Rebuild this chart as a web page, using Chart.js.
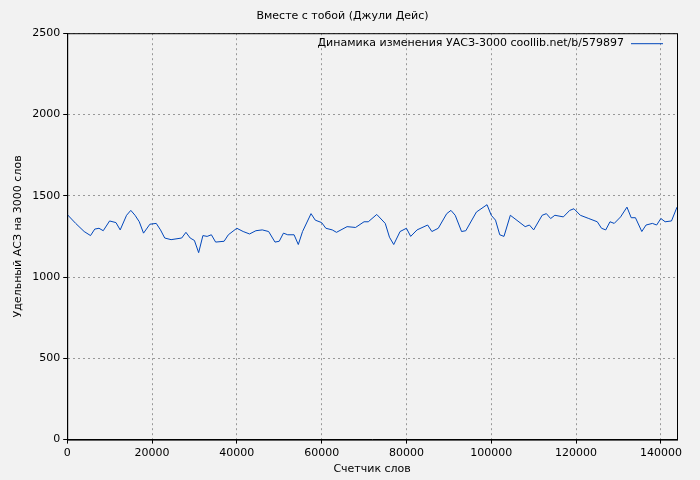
<!DOCTYPE html>
<html>
<head>
<meta charset="utf-8">
<script src="https://cdn.jsdelivr.net/npm/chart.js@4"></script>
<style>
html,body{margin:0;padding:0;background:#f2f2f2;}
#wrap{width:700px;height:480px;position:relative;}
</style>
</head>
<body>
<div id="wrap"><canvas id="c" width="700" height="480"></canvas></div>
<script>
// Данные: счетчик слов и удельный АСЗ
const wordsX = [0,2000,4000,5500,6500,7500,8500,10000,11500,12500,14000,15000,16000,17000,18000,19500,21000,22000,23000,24500,27000,28000,29000,30000,31000,32000,33000,34000,35000,37000,38000,40000,41500,43000,44500,46000,47500,49000,50000,51000,52000,53500,54500,55500,57500,58500,60000,61000,62500,63500,66000,68000,70000,71000,73000,75000,76000,77000,78500,80000,81000,82500,85000,86000,87500,89500,90500,91500,93000,94000,96500,99000,100000,101000,102000,103000,104500,108000,109000,110000,112000,113000,114000,115000,117000,118500,119500,121000,123000,125000,126000,127000,128000,129000,130500,132000,133000,134000,135500,136500,138000,139000,140000,141000,142500,143800];
const asz = [1385,1330,1280,1255,1295,1300,1285,1345,1335,1290,1380,1410,1380,1340,1270,1325,1330,1290,1240,1230,1240,1275,1240,1225,1150,1255,1250,1260,1215,1220,1260,1300,1280,1265,1285,1290,1280,1215,1220,1270,1260,1260,1200,1280,1390,1350,1335,1300,1290,1275,1310,1305,1340,1340,1385,1330,1245,1200,1280,1300,1250,1290,1320,1280,1300,1390,1410,1380,1280,1285,1400,1445,1380,1350,1260,1250,1380,1310,1320,1290,1380,1390,1360,1380,1370,1410,1420,1380,1360,1340,1300,1290,1340,1330,1370,1430,1365,1365,1280,1320,1330,1320,1360,1340,1345,1430];
const xTicks = [0,20000,40000,60000,80000,100000,120000,140000];
const yTicks = [0,500,1000,1500,2000,2500];
const seriesLabel = 'Динамика изменения УАСЗ-3000 coollib.net/b/579897';

Chart.defaults.font.family = "'DejaVu Sans', sans-serif";
Chart.defaults.font.size = 11;
Chart.defaults.color = '#000';

const bg = {
    id: 'bg',
    beforeDraw(chart) {
        const ctx = chart.ctx;
        ctx.save();
        ctx.fillStyle = '#f2f2f2';
        ctx.fillRect(0, 0, chart.width, chart.height);
        ctx.restore();
    },
    afterDraw(chart) {
        const a = chart.chartArea, ctx = chart.ctx;
        ctx.save();
        ctx.strokeStyle = '#000';
        ctx.lineWidth = 1;
        ctx.strokeRect(a.left + 0.5, a.top + 0.5, a.right - a.left, a.bottom - a.top);
        // легенда справа вверху: текст, затем линия
        ctx.font = "11px 'DejaVu Sans', sans-serif";
        ctx.fillStyle = '#000';
        ctx.textAlign = 'right';
        ctx.textBaseline = 'middle';
        const ly = a.top + 10;
        ctx.fillText(seriesLabel, a.right - 53, ly);
        ctx.strokeStyle = '#0047bb';
        ctx.beginPath();
        ctx.moveTo(a.right - 46, ly + 0.5);
        ctx.lineTo(a.right - 14, ly + 0.5);
        ctx.stroke();
        ctx.restore();
    }
};

new Chart(document.getElementById('c'), {
    type: 'line',
    data: {
        datasets: [{
            label: seriesLabel,
            data: wordsX.map((x, i) => ({ x: x, y: asz[i] })),
            borderColor: '#0047bb',
            borderWidth: 1,
            pointRadius: 0,
            tension: 0
        }]
    },
    options: {
        responsive: false, animation: false,
        layout: { padding: { left: 8, right: 23, top: 0, bottom: 0 } },
        plugins: {
            title: { display: true, text: 'Вместе с тобой (Джули Дейс)', font: { size: 11, weight: 'normal' }, padding: { top: 10, bottom: 10 } },
            legend: { display: false }
        },
        scales: {
            x: {
                type: 'linear', min: 0, max: 143800,
                afterBuildTicks: s => { s.ticks = xTicks.map(v => ({ value: v })); },
                title: { display: true, text: 'Счетчик слов', padding: { top: 0 } },
                ticks: { autoSkip: false, maxRotation: 0, callback: v => String(v) },
                grid: { color: '#999', tickColor: '#000', tickLength: 4 },
                border: { dash: [2, 3], color: '#000' }
            },
            y: {
                min: 0, max: 2500,
                afterBuildTicks: s => { s.ticks = yTicks.map(v => ({ value: v })); },
                title: { display: true, text: 'Удельный АСЗ на 3000 слов' },
                ticks: { callback: v => String(v) },
                grid: { color: '#999', tickColor: '#000', tickLength: 4 },
                border: { dash: [2, 3], color: '#000' }
            }
        }
    },
    plugins: [bg]
});
</script>
</body>
</html>
